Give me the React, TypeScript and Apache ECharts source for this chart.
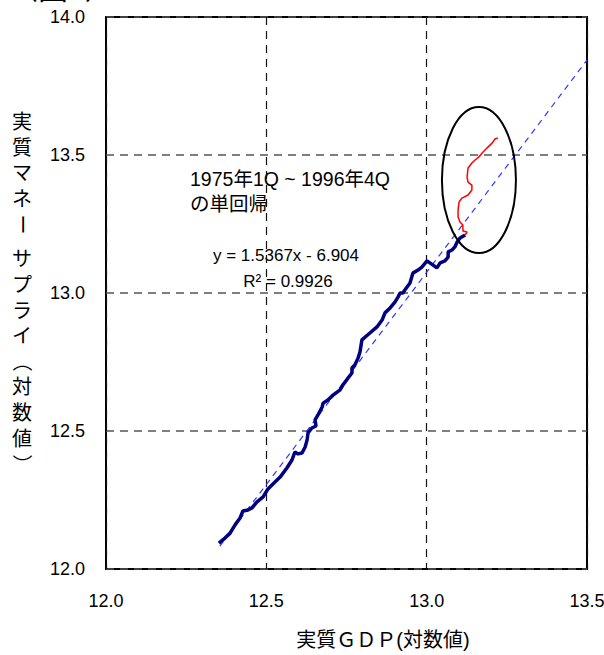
import React, { useEffect, useRef } from "react";
import * as echarts from "echarts";

// Real GDP (log) / real money supply (log), 1975Q1-1996Q4 (navy)
const blueGdp = [
  12.352, 12.371, 12.387, 12.402, 12.418, 12.427, 12.443, 12.455, 12.471, 12.49,
  12.505, 12.527, 12.543, 12.564, 12.58, 12.589, 12.599, 12.611, 12.621, 12.627,
  12.63, 12.642, 12.655, 12.652, 12.661, 12.674, 12.677, 12.692, 12.708, 12.73,
  12.739, 12.755, 12.767, 12.767, 12.776, 12.786, 12.792, 12.798, 12.823, 12.845,
  12.861, 12.87, 12.886, 12.901, 12.911, 12.917, 12.926, 12.932, 12.948, 12.957,
  12.973, 12.985, 13.001, 13.01, 13.02, 13.032, 13.042, 13.057, 13.067, 13.067,
  13.079, 13.088, 13.095, 13.104, 13.12,
];
const blueMoney = [
  12.094, 12.112, 12.13, 12.159, 12.185, 12.21, 12.214, 12.221, 12.243, 12.261,
  12.29, 12.315, 12.333, 12.366, 12.395, 12.424, 12.417, 12.42, 12.442, 12.467,
  12.493, 12.511, 12.518, 12.54, 12.558, 12.587, 12.601, 12.612, 12.63, 12.649,
  12.667, 12.692, 12.71, 12.728, 12.739, 12.764, 12.786, 12.83, 12.855, 12.877,
  12.902, 12.928, 12.946, 12.967, 12.986, 13.0, 13.0, 13.011, 13.036, 13.072,
  13.083, 13.094, 13.116, 13.109, 13.101, 13.091, 13.109, 13.116, 13.13, 13.149,
  13.156, 13.167, 13.185, 13.199, 13.21,
];
// After 1997 (red)
const redGdp = [
  13.12, 13.126, 13.113, 13.113, 13.104, 13.098, 13.098, 13.101, 13.11, 13.129,
  13.141, 13.141, 13.129, 13.126, 13.129, 13.141, 13.151, 13.163, 13.173, 13.188,
  13.204, 13.213, 13.222,
];
const redMoney = [
  13.21, 13.221, 13.225, 13.246, 13.257, 13.275, 13.301, 13.33, 13.344, 13.355,
  13.373, 13.391, 13.402, 13.42, 13.453, 13.471, 13.482, 13.493, 13.507, 13.525,
  13.543, 13.558, 13.562,
];
// Regression line end points
const fitGdp = [12.355, 13.5];
const fitMoney = [12.083, 13.844];
// Ellipse marking the recent period: centre and half-axes in data units
const ellipseCenter = [13.163, 13.409];
const ellipseHalfAxes = [0.1154, 0.2645];

const yTitleChars = ["実", "質", "マ", "ネ", "ー", "サ", "プ", "ラ", "イ", "（", "対", "数", "値", "）"];
const rotatedChars = ["ー", "（", "）"];

const FONT = "'Liberation Sans', Arial, 'Noto Sans CJK JP', sans-serif";

export default function App() {
  const ref = useRef<HTMLDivElement>(null);
  useEffect(() => {
    if (!ref.current) return;
    const chart = echarts.init(ref.current, null, { renderer: "svg" });

    const yTitle: any[] = [];
    let yy = 122;
    yTitleChars.forEach((ch) => {
      yTitle.push({
        type: "text",
        x: 22,
        y: yy,
        rotation: rotatedChars.includes(ch) ? -Math.PI / 2 : 0,
        style: {
          text: ch,
          fontSize: 20,
          fontFamily: FONT,
          fill: "#000",
          align: "center",
          verticalAlign: "middle",
        },
      });
      yy += ch === "ー" ? 35 : 25.6;
    });

    chart.setOption({
      animation: false,
      backgroundColor: "#fff",
      grid: {
        left: 106,
        right: 17,
        top: 17,
        bottom: 86,
        outerBoundsMode: "none",
        containLabel: false,
        show: true,
        borderColor: "#000",
        borderWidth: 2,
        backgroundColor: "transparent",
      },
      xAxis: {
        type: "value",
        min: 12,
        max: 13.5,
        interval: 0.5,
        axisLine: { show: false },
        axisTick: { show: false },
        axisLabel: {
          formatter: (v: number) => v.toFixed(1),
          fontSize: 18,
          color: "#000",
          fontFamily: FONT,
          margin: 23,
        },
        splitLine: { show: true, lineStyle: { color: "#111", width: 1.2, type: [8, 6] } },
      },
      yAxis: {
        type: "value",
        min: 12,
        max: 14,
        interval: 0.5,
        axisLine: { show: false },
        axisTick: { show: false },
        axisLabel: {
          formatter: (v: number) => v.toFixed(1),
          fontSize: 18,
          color: "#000",
          fontFamily: FONT,
          margin: 21,
        },
        splitLine: { show: true, lineStyle: { color: "#555", width: 1.5, type: [8, 6] } },
      },
      series: [
        {
          type: "line",
          data: fitGdp.map((x, i) => [x, fitMoney[i]]),
          showSymbol: false,
          symbol: "none",
          lineStyle: { color: "#2b3bff", width: 1.2, type: [6, 5] },
          z: 2,
        },
        {
          type: "line",
          data: blueGdp.map((x, i) => [x, blueMoney[i]]),
          showSymbol: false,
          symbol: "none",
          lineStyle: { color: "#000080", width: 3.5 },
          z: 3,
        },
        {
          type: "line",
          data: redGdp.map((x, i) => [x, redMoney[i]]),
          showSymbol: false,
          symbol: "none",
          lineStyle: { color: "#ff0000", width: 1.5 },
          z: 4,
        },
        {
          type: "custom",
          silent: true,
          clip: false,
          z: 5,
          data: [[ellipseCenter[0], ellipseCenter[1], ellipseHalfAxes[0], ellipseHalfAxes[1]]],
          renderItem: (params: any, api: any) => {
            const c = api.coord([api.value(0), api.value(1)]);
            const s = api.size([api.value(2), api.value(3)]);
            return {
              type: "ellipse",
              shape: { cx: c[0], cy: c[1], rx: s[0], ry: s[1] },
              style: { fill: "none", stroke: "#000", lineWidth: 2 },
            };
          },
        },
      ],
      graphic: [
        {
          type: "text",
          x: 8,
          y: -27,
          style: { text: "（図1）", fontSize: 30, fontFamily: FONT, fill: "#000" },
        },
        {
          type: "text",
          x: 190,
          y: 191,
          style: {
            text: "1975年1Q ~ 1996年4Q\nの単回帰",
            fontSize: 19.5,
            lineHeight: 25,
            fontFamily: FONT,
            fill: "#000",
            verticalAlign: "middle",
          },
        },
        {
          type: "text",
          x: 286,
          y: 255,
          style: {
            text: "y = 1.5367x - 6.904",
            fontSize: 17,
            fontFamily: FONT,
            fill: "#000",
            align: "center",
            verticalAlign: "middle",
          },
        },
        {
          type: "text",
          x: 288,
          y: 281,
          style: {
            text: "R² = 0.9926",
            fontSize: 17,
            fontFamily: FONT,
            fill: "#000",
            align: "center",
            verticalAlign: "middle",
          },
        },
        {
          type: "text",
          x: 383,
          y: 640,
          style: {
            text: "実質ＧＤＰ(対数値)",
            fontSize: 20,
            fontFamily: FONT,
            fill: "#000",
            align: "center",
            verticalAlign: "middle",
          },
        },
        ...yTitle,
      ],
    });
    return () => chart.dispose();
  }, []);
  return (
    <div
      ref={ref}
      style={{ position: "fixed", left: 0, top: 0, width: 604, height: 655 }}
    />
  );
}
